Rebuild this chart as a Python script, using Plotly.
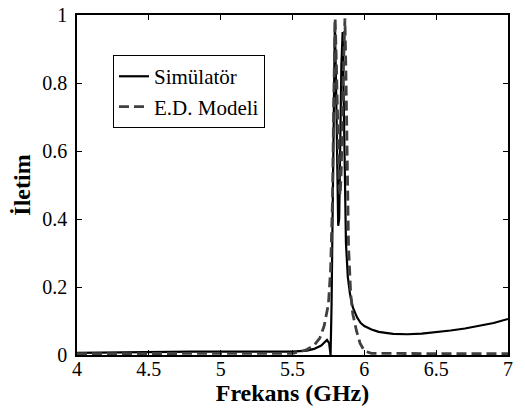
import plotly.graph_objects as go

# Simulator (solid)
sim_f = [4.0, 4.2, 4.4, 4.8, 5.2, 5.5, 5.6, 5.65, 5.7, 5.74, 5.755, 5.765, 5.772, 5.78, 5.787, 5.795,
         5.803, 5.81, 5.818, 5.825, 5.832, 5.84, 5.849, 5.856, 5.863, 5.872, 5.885, 5.9, 5.92, 5.95,
         5.975, 6.0, 6.05, 6.1, 6.2, 6.3, 6.4, 6.5, 6.6, 6.7, 6.8, 6.9, 7.0]
sim_t = [0.006, 0.007, 0.009, 0.010, 0.010, 0.010, 0.013, 0.018, 0.028, 0.044, 0.035, 0.0, 0.15, 0.45, 0.80, 0.98,
         0.80, 0.55, 0.38, 0.40, 0.60, 0.85, 0.95, 0.75, 0.50, 0.33, 0.23, 0.18, 0.14, 0.11,
         0.094, 0.085, 0.075, 0.068, 0.062, 0.061, 0.063, 0.067, 0.072, 0.078, 0.085, 0.094, 0.106]

# E.D. Model (dashed)
ed_f = [4.0, 4.5, 5.0, 5.5, 5.55, 5.6, 5.65, 5.69, 5.72, 5.75, 5.765, 5.778, 5.787, 5.797,
        5.806, 5.815, 5.825, 5.832, 5.84, 5.85, 5.865, 5.873, 5.88, 5.89, 5.905, 5.92, 5.946,
        5.97, 6.0, 6.05, 6.5, 7.0]
ed_t = [0.004, 0.004, 0.004, 0.005, 0.009, 0.016, 0.028, 0.05, 0.085, 0.15, 0.25, 0.45, 0.75, 0.99,
        0.85, 0.62, 0.49, 0.47, 0.55, 0.78, 0.99, 0.80, 0.55, 0.32, 0.18, 0.12, 0.07,
        0.035, 0.012, 0.005, 0.004, 0.004]

x_ticks = [4, 4.5, 5, 5.5, 6, 6.5, 7]
y_ticks = [0, 0.2, 0.4, 0.6, 0.8, 1]

FONT = "Liberation Serif, Times New Roman, serif"

fig = go.Figure()
fig.add_trace(go.Scatter(x=sim_f, y=sim_t, mode="lines", name="Simülatör",
                         line=dict(color="#000000", width=2.2)))
fig.add_trace(go.Scatter(x=ed_f, y=ed_t, mode="lines", name="E.D. Modeli",
                         line=dict(color="#404040", width=2.8, dash="10px,5px")))

axis_common = dict(showline=True, linecolor="black", linewidth=1.5, mirror="ticks",
                   ticks="inside", ticklen=5, tickcolor="black", showgrid=False,
                   zeroline=False, automargin=False,
                   tickfont=dict(family=FONT, size=20, color="black"))

fig.update_layout(
    width=525, height=412,
    margin=dict(l=77, r=17, t=15, b=57),
    paper_bgcolor="white", plot_bgcolor="white",
    font=dict(family=FONT, color="black"),
    xaxis=dict(range=[4, 7], tickvals=x_ticks, ticktext=[str(v) for v in x_ticks],
               ticklabelstandoff=-5,
               title=dict(text="<b>Frekans (GHz)</b>", font=dict(family=FONT, size=24), standoff=0),
               **axis_common),
    yaxis=dict(range=[0, 1], tickvals=y_ticks, ticktext=[f"{v:g}" for v in y_ticks],
               ticklabelstandoff=4,
               title=dict(text="<b>İletim</b>", font=dict(family=FONT, size=24), standoff=5),
               **axis_common),
    legend=dict(x=0.0835, y=0.882, xanchor="left", yanchor="top",
                bordercolor="black", borderwidth=1, bgcolor="white",
                font=dict(family=FONT, size=21, color="black"),
                tracegroupgap=0),
    showlegend=True,
)

fig.write_html("out.html", config={"displayModeBar": False},
               post_script="document.body.style.margin='0px';")
